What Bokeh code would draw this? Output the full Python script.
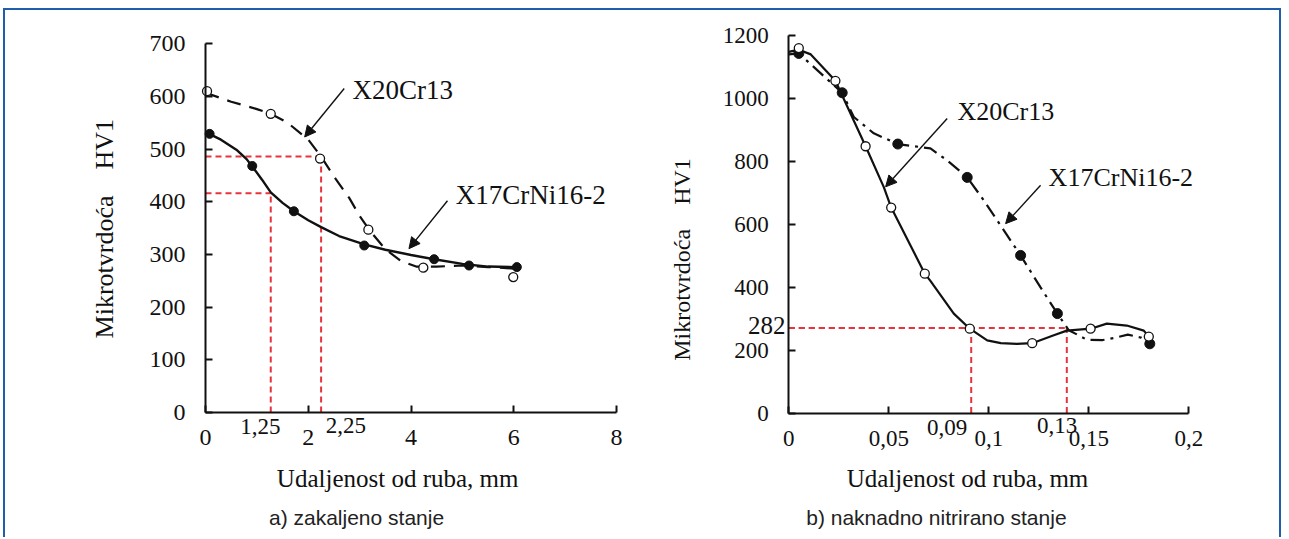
import numpy as np
from bokeh.plotting import figure
from bokeh.models import Range1d, FixedTicker, Label, Arrow, NormalHead, LinearAxis
from bokeh.layouts import row
from bokeh.embed import file_html
from bokeh.resources import INLINE

# ---------------- data ----------------
# a) zakaljeno stanje
a_x20_x = [0.03, 1.27, 2.23, 3.17, 4.24, 5.99]
a_x20_y = [610, 567, 482, 347, 275, 257]
a_x17_x = [0.08, 0.91, 1.72, 3.09, 4.45, 5.13, 6.06]
a_x17_y = [529, 468, 382, 317, 291, 279, 276]
a_x20_curve_x = [0.0, 0.5, 1.0, 1.27, 1.6, 2.0, 2.25, 2.5, 2.8, 3.0, 3.2, 3.5, 3.8, 4.1, 4.5, 5.0, 5.5, 6.05]
a_x20_curve_y = [607, 590, 576, 567, 550, 518, 486, 448, 407, 373, 345, 310, 288, 277, 277, 279, 276, 273]
a_x17_curve_x = [0.05, 0.3, 0.6, 0.8, 0.91, 1.1, 1.27, 1.5, 1.72, 2.0, 2.25, 2.6, 3.09, 3.5, 4.0, 4.45, 5.0, 5.5, 6.06]
a_x17_curve_y = [530, 518, 499, 481, 467, 442, 418, 398, 382, 365, 352, 335, 319, 309, 299, 291, 282, 277, 276]
a_ref_x = [2.25, 1.27]
a_ref_y = [486, 416]
a_xticks = [0, 2, 4, 6, 8]
a_yticks = [0, 100, 200, 300, 400, 500, 600, 700]

# b) naknadno nitrirano stanje
b_x20_x = [0.005, 0.0233, 0.0384, 0.0512, 0.068, 0.0905, 0.1217, 0.1509, 0.18]
b_x20_y = [1160, 1056, 848, 653, 443, 268, 222, 268, 243]
b_x17_x = [0.005, 0.0267, 0.0545, 0.0892, 0.1159, 0.1343, 0.1805]
b_x17_y = [1143, 1018, 855, 749, 501, 316, 220]
b_x20_curve_x = [0.0, 0.005, 0.011, 0.0233, 0.0384, 0.0475, 0.0512, 0.068, 0.0708, 0.0825, 0.0905,
                 0.0992, 0.106, 0.114, 0.1217, 0.1325, 0.139, 0.151, 0.159, 0.169, 0.1775, 0.18]
b_x20_curve_y = [1148, 1155, 1140, 1056, 848, 718, 653, 443, 420, 316, 268,
                 231, 222, 220, 222, 247, 262, 268, 284, 278, 262, 243]
b_x17_curve_x = [0.0, 0.005, 0.0267, 0.0325, 0.0425, 0.0545, 0.0708, 0.079, 0.0892, 0.0975, 0.1159,
                 0.1258, 0.1343, 0.140, 0.144, 0.149, 0.157, 0.163, 0.1695, 0.176, 0.1805]
b_x17_curve_y = [1140, 1143, 1018, 941, 889, 855, 841, 804, 749, 676, 501,
                 400, 316, 263, 250, 233, 232, 239, 249, 240, 220]
b_ref_x = [0.0912, 0.139]
b_ref_y = [270, 270]
b_xticks = [0, 0.05, 0.1, 0.15, 0.2]
b_xlabels = ["0", "0,05", "0,1", "0,15", "0,2"]
b_yticks = [0, 200, 400, 600, 800, 1000, 1200]

SERIF = "Liberation Serif"
SANS = "Liberation Sans"
INK = "#111111"
RED = "#e8333c"
H = 527


def make_fig(width, xr, yr, xbounds, ybounds, xticks, yticks, tick_px):
    p = figure(width=width, height=H, x_range=Range1d(*xr), y_range=Range1d(*yr),
               output_backend="svg", toolbar_location=None,
               x_axis_location=None, y_axis_location=None,
               min_border=0)
    p.grid.visible = False
    p.outline_line_color = None
    p.background_fill_color = "white"
    p.border_fill_color = "white"
    xa = LinearAxis(fixed_location=0, bounds=xbounds, ticker=FixedTicker(ticks=xticks))
    ya = LinearAxis(fixed_location=0, bounds=ybounds, ticker=FixedTicker(ticks=yticks))
    for ax in (xa, ya):
        ax.axis_line_width = 2
        ax.axis_line_color = INK
        ax.major_tick_in = 7
        ax.major_tick_out = 0
        ax.major_tick_line_width = 2
        ax.major_tick_line_color = INK
        ax.minor_tick_line_color = None
        ax.major_label_text_font = SERIF
        ax.major_label_text_font_size = f"{tick_px}px"
        ax.major_label_text_color = INK
    xa.major_label_standoff = 18
    ya.major_label_standoff = 20
    p.add_layout(xa, "below")
    p.add_layout(ya, "left")
    return p, xa, ya


def label(p, x, y, text, size, font=SERIF, angle=0.0, align="center", color=INK):
    p.add_layout(Label(x=x, y=y, text=text, angle=angle, text_align=align,
                       text_baseline="middle", text_font=font,
                       text_font_size=f"{size}px", text_color=color))


def arrow(p, x0, y0, x1, y1):
    p.add_layout(Arrow(end=NormalHead(size=11, fill_color=INK, line_color=INK, line_width=1),
                       x_start=x0, y_start=y0, x_end=x1, y_end=y1,
                       line_color=INK, line_width=1.4))


def ref_lines(p, xs, ys):
    x0 = [0] * len(xs) + list(xs)
    y0 = list(ys) + [0] * len(xs)
    x1 = list(xs) + list(xs)
    y1 = list(ys) + list(ys)
    p.segment(x0, y0, x1, y1, line_color=RED, line_dash="6 4", line_width=2)


# ---------------- a) ----------------
pa, xa_a, ya_a = make_fig(635, (-3.893, 8.467), (-237.4, 763.2), (0, 8), (0, 700),
                          a_xticks, a_yticks, 24)
ref_lines(pa, a_ref_x, a_ref_y)
pa.line(a_x20_curve_x, a_x20_curve_y, line_color=INK, line_width=2.2, line_dash="14 9")
pa.line(a_x17_curve_x, a_x17_curve_y, line_color=INK, line_width=2.4)
pa.scatter(a_x17_x, a_x17_y, marker="circle", size=9, fill_color=INK, line_color=INK)
pa.scatter(a_x20_x, a_x20_y, marker="circle", size=9, fill_color="white", line_color=INK, line_width=1.3)
label(pa, 2.86, 613, "X20Cr13", 27, align="left")
label(pa, 4.87, 413, "X17CrNi16-2", 27, align="left")
arrow(pa, 2.70, 615, 1.93, 523)
arrow(pa, 4.71, 402, 3.96, 311)
label(pa, 1.07, -27, "1,25", 23)
label(pa, 2.73, -25, "2,25", 23)
label(pa, -1.97, 349, "Mikrotvrdoća\u00a0\u00a0\u00a0\u00a0HV1", 26, angle=np.pi / 2)
label(pa, 3.74, -125, "Udaljenost od ruba, mm", 25)
label(pa, 2.94, -199, "a) zakaljeno stanje", 21, font=SANS, color="#222222")

# ---------------- b) ----------------
pb, xa_b, ya_b = make_fig(639, (-0.07415, 0.24535), (-395.7, 1279.5), (0, 0.2), (0, 1200),
                          b_xticks, b_yticks, 23)
xa_b.major_label_overrides = {t: s for t, s in zip(b_xticks, b_xlabels)}
ref_lines(pb, b_ref_x, b_ref_y)
pb.line(b_x17_curve_x, b_x17_curve_y, line_color=INK, line_width=2.2, line_dash="14 6 3 6")
pb.line(b_x20_curve_x, b_x20_curve_y, line_color=INK, line_width=2.2)
pb.scatter(b_x17_x, b_x17_y, marker="circle", size=10, fill_color=INK, line_color=INK)
pb.scatter(b_x20_x, b_x20_y, marker="circle", size=9, fill_color="white", line_color=INK, line_width=1.3)
label(pb, 0.0843, 958, "X20Cr13", 26, align="left")
label(pb, 0.1299, 750, "X17CrNi16-2", 26, align="left")
arrow(pb, 0.0792, 936, 0.0484, 719)
arrow(pb, 0.1259, 724, 0.1084, 602)
label(pb, -0.0017, 278, "282", 25, align="right")
label(pb, 0.0792, -45, "0,09", 23)
label(pb, 0.1342, -40, "0,13", 23)
label(pb, -0.0532, 488, "Mikrotvrdoća\u00a0\u00a0\u00a0\u00a0HV1", 24, angle=np.pi / 2)
label(pb, 0.0909, -208, "Udaljenost  od ruba, mm", 25)
label(pb, 0.0738, -333, "b) naknadno nitrirano stanje", 21, font=SANS, color="#222222")

BLUE = "2px solid #1f5ea8"
layout = row(pa, pb, styles={"border-top": BLUE, "border-left": BLUE, "border-right": BLUE,
                             "margin-left": "3px", "margin-top": "8px"})

open("out.html", "w").write(file_html(layout, INLINE))
